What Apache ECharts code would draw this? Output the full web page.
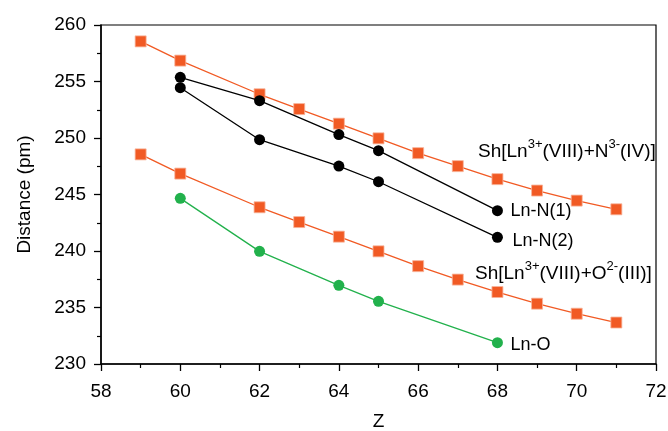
<!DOCTYPE html>
<html>
<head>
<meta charset="utf-8">
<script src="https://cdn.jsdelivr.net/npm/echarts@6/dist/echarts.min.js"></script>
<style>html,body{margin:0;padding:0;background:#fff}#c{width:668px;height:431px}</style>
</head>
<body>
<div id="c"></div>
<script>
// Data
var shZ = [59, 60, 62, 63, 64, 65, 66, 67, 68, 69, 70, 71];
var shN = [258.55, 256.85, 253.87, 252.56, 251.27, 249.97, 248.66, 247.51, 246.36, 245.35, 244.46, 243.69];
var shO = [248.55, 246.85, 243.87, 242.56, 241.27, 239.97, 238.66, 237.47, 236.37, 235.34, 234.45, 233.67];
var lnZ = [60, 62, 64, 65, 68];
var lnN1 = [255.37, 253.3, 250.3, 248.88, 243.57];
var lnN2 = [254.45, 249.85, 247.52, 246.13, 241.21];
var lnO = [244.66, 239.97, 236.96, 235.55, 231.89];
var xTicks = [58, 60, 62, 64, 66, 68, 70, 72];
var yTicks = [230, 235, 240, 245, 250, 255, 260];

var FONT = 'Liberation Sans, Arial, sans-serif';
var ORANGE = '#F15A24';
var GREEN = '#22B14C';

function pairs(xs, ys) { return xs.map(function (x, i) { return [x, ys[i]]; }); }

var chart = echarts.init(document.getElementById('c'), null, {renderer: 'canvas'});

function lineSeries(name, xs, ys, color, symbol, size, withLabel, labelOffset) {
  return {
    name: name,
    type: 'line',
    data: pairs(xs, ys),
    symbol: symbol,
    symbolSize: size,
    lineStyle: {color: color, width: 1.3},
    itemStyle: {color: color, borderColor: symbol === 'rect' ? '#F8B49A' : color, borderWidth: symbol === 'rect' ? 0.8 : 0},
    emphasis: {disabled: true},
    animation: false,
    z: symbol === 'rect' ? 2 : 3,
    endLabel: withLabel ? {
      show: true,
      formatter: name,
      color: '#000',
      fontFamily: FONT,
      fontSize: 18,
      distance: 13,
      offset: labelOffset || [0, 0]
    } : {show: false}
  };
}

var axisLabelStyle = {color: '#000', fontFamily: FONT, fontSize: 19};
var supRich = {sup: {fontSize: 13, fontFamily: FONT, lineHeight: 13, verticalAlign: 'top', fill: '#000'}};

chart.setOption({
  animation: false,
  backgroundColor: '#fff',
  grid: {left: 101, right: 12, top: 25, bottom: 67, outerBoundsMode: 'none', containLabel: false, show: true, borderColor: '#000', borderWidth: 1.2, backgroundColor: 'transparent'},
  xAxis: {
    type: 'value', min: xTicks[0], max: xTicks[xTicks.length - 1], interval: 2,
    name: 'Z', nameLocation: 'middle', nameGap: 48,
    nameTextStyle: {color: '#000', fontFamily: FONT, fontSize: 19},
    axisLine: {show: true, lineStyle: {color: '#000', width: 1.5}},
    axisTick: {show: true, inside: false, length: 7, lineStyle: {color: '#000', width: 1.3}},
    minorTick: {show: true, splitNumber: 2, length: 4, lineStyle: {color: '#000', width: 1.2}},
    axisLabel: Object.assign({margin: 18}, axisLabelStyle),
    splitLine: {show: false}
  },
  yAxis: {
    type: 'value', min: yTicks[0], max: yTicks[yTicks.length - 1], interval: 5,
    name: 'Distance (pm)', nameLocation: 'middle', nameGap: 67, nameRotate: 90,
    nameTextStyle: {color: '#000', fontFamily: FONT, fontSize: 19},
    axisLine: {show: true, lineStyle: {color: '#000', width: 1.5}},
    axisTick: {show: true, inside: false, length: 7, lineStyle: {color: '#000', width: 1.3}},
    minorTick: {show: true, splitNumber: 2, length: 4, lineStyle: {color: '#000', width: 1.2}},
    axisLabel: Object.assign({margin: 15}, axisLabelStyle),
    splitLine: {show: false}
  },
  series: [
    lineSeries('Sh N', shZ, shN, ORANGE, 'rect', 11, false),
    lineSeries('Sh O', shZ, shO, ORANGE, 'rect', 11, false),
    lineSeries('Ln-N(1)', lnZ, lnN1, '#000', 'circle', 11, true, [0, 0]),
    lineSeries('Ln-N(2)', lnZ, lnN2, '#000', 'circle', 11, true, [2, 4]),
    lineSeries('Ln-O', lnZ, lnO, GREEN, 'circle', 11, true, [0, 2])
  ],
  graphic: [
    {
      type: 'text', left: 478, top: 138, silent: true,
      style: {
        text: 'Sh[Ln{sup|3+}(VIII)+N{sup|3-}(IV)]',
        fill: '#000', fontFamily: FONT, fontSize: 19,
        lineHeight: 27,
        rich: supRich
      }
    },
    {
      type: 'text', left: 475, top: 260, silent: true,
      style: {
        text: 'Sh[Ln{sup|3+}(VIII)+O{sup|2-}(III)]',
        fill: '#000', fontFamily: FONT, fontSize: 19,
        lineHeight: 27,
        rich: supRich
      }
    }
  ]
});
</script>
</body>
</html>
